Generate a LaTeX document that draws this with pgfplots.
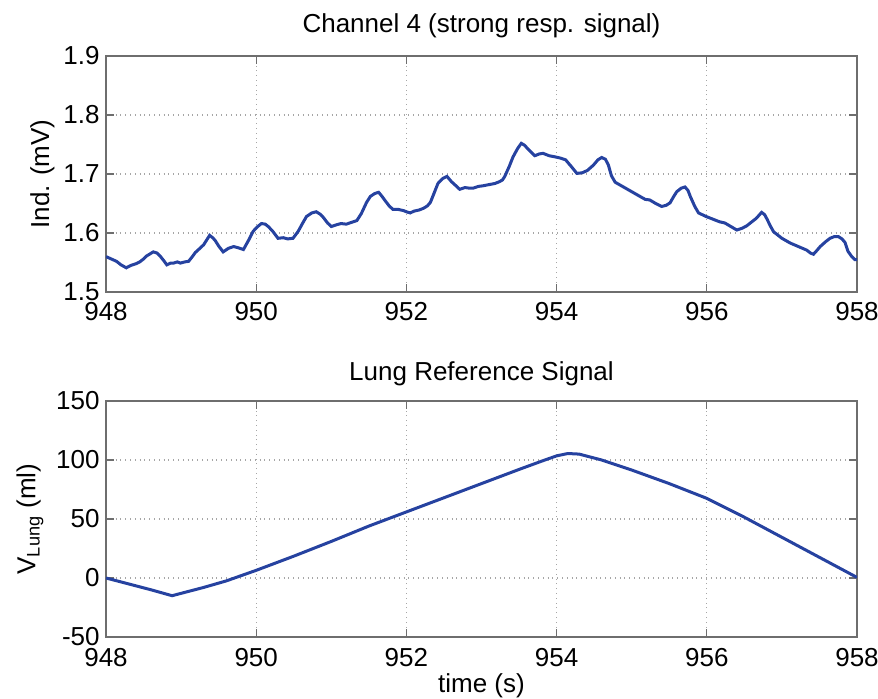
\documentclass[border=0pt]{standalone}
\usepackage{fontspec}
\setmainfont{Liberation Sans}
\usepackage{pgfplots}
\pgfplotsset{compat=1.18}
\definecolor{sig}{RGB}{38,66,160}
\definecolor{axgray}{RGB}{110,110,110}
\newcommand{\fs}{\fontsize{13}{15}\selectfont}
\pgfplotsset{
  mystyle/.style={
    scale only axis, width=375.5pt, height=118pt, anchor=south west,
    xmin=948, xmax=958, xtick={948,950,952,954,956,958},
    grid=major, grid style={dotted, gray!70, line width=0.6pt},
    tick align=inside, tick pos=both, major tick length=4pt,
    axis line style={axgray, line width=0.6pt},
    tick style={axgray, line width=0.6pt},
    /pgf/number format/assume math mode=true,
    ticklabel style={font=\fs},
    xticklabel style={anchor=base, inner sep=0pt, yshift=-14.5pt},
    yticklabel style={anchor=east, inner sep=0pt, xshift=-3pt},
    label style={font=\fs},
    title style={font=\fs, anchor=base, at={(0.5,1)}},
    xlabel style={at={(axis description cs:0.5,0)}, anchor=base, yshift=-27.5pt},
    every axis plot/.append style={sig, line width=1.5pt, line join=miter},
  }
}
\begin{document}
\fs
\begin{tikzpicture}
\path[use as bounding box] (0,0) rectangle (439pt,-349.5pt);
\begin{axis}[mystyle, at={(53pt,-146pt)},
  ymin=1.5, ymax=1.9, ytick={1.5,1.6,1.7,1.8,1.9},
  yticklabel style={/pgf/number format/.cd, fixed, fixed zerofill, precision=1},
  title={Channel 4 (strong resp. signal)}, title style={yshift=5.5pt},
  ylabel={Ind. (mV)},
  ylabel style={at={(axis description cs:-0.0846,0.5)}, anchor=center}]
\addplot[no marks] coordinates {
(948.00,1.560) (948.07,1.556) (948.14,1.552) (948.20,1.546) (948.27,1.541)
(948.33,1.545) (948.40,1.548) (948.45,1.551) (948.50,1.556) (948.54,1.561)
(948.63,1.568) (948.68,1.566) (948.72,1.561) (948.77,1.553) (948.81,1.546)
(948.86,1.549) (948.90,1.549) (948.95,1.551) (948.99,1.549) (949.05,1.551)
(949.10,1.552) (949.15,1.560) (949.19,1.567) (949.25,1.574) (949.30,1.580)
(949.34,1.588) (949.38,1.596) (949.42,1.592) (949.45,1.588) (949.50,1.578)
(949.56,1.568) (949.63,1.574) (949.70,1.577) (949.76,1.575) (949.83,1.572)
(949.90,1.588) (949.96,1.603) (950.02,1.611) (950.07,1.616) (950.12,1.615)
(950.16,1.611) (950.22,1.603) (950.29,1.591) (950.36,1.592) (950.42,1.590)
(950.49,1.591) (950.56,1.603) (950.62,1.617) (950.67,1.628) (950.74,1.634)
(950.80,1.636) (950.85,1.632) (950.89,1.627) (950.95,1.617) (951.00,1.611)
(951.07,1.614) (951.13,1.616) (951.20,1.615) (951.27,1.618) (951.34,1.621)
(951.40,1.633) (951.47,1.652) (951.52,1.662) (951.58,1.667) (951.63,1.669)
(951.67,1.663) (951.71,1.656) (951.77,1.646) (951.82,1.640) (951.89,1.640)
(951.96,1.638) (952.00,1.636) (952.05,1.634) (952.10,1.637) (952.17,1.639)
(952.23,1.642) (952.28,1.646) (952.32,1.652) (952.37,1.668) (952.42,1.684)
(952.48,1.692) (952.54,1.696) (952.60,1.687) (952.66,1.680) (952.71,1.674)
(952.78,1.677) (952.84,1.676) (952.89,1.676) (952.96,1.679) (953.02,1.680)
(953.10,1.682) (953.18,1.684) (953.24,1.687) (953.28,1.690) (953.31,1.696)
(953.37,1.713) (953.42,1.729) (953.48,1.743) (953.53,1.752) (953.57,1.749)
(953.60,1.745) (953.66,1.737) (953.71,1.731) (953.77,1.734) (953.82,1.735)
(953.90,1.731) (953.98,1.729) (954.05,1.727) (954.12,1.724) (954.20,1.712)
(954.27,1.701) (954.34,1.702) (954.41,1.706) (954.49,1.715) (954.55,1.724)
(954.60,1.728) (954.65,1.725) (954.69,1.715) (954.73,1.697) (954.78,1.686)
(954.89,1.678) (955.00,1.670) (955.11,1.662) (955.18,1.657) (955.24,1.656)
(955.32,1.650) (955.40,1.645) (955.46,1.647) (955.51,1.651) (955.56,1.662)
(955.60,1.670) (955.66,1.676) (955.71,1.678) (955.75,1.672) (955.78,1.662)
(955.84,1.645) (955.89,1.634) (955.99,1.628) (956.09,1.623) (956.17,1.619)
(956.24,1.617) (956.32,1.611) (956.40,1.605) (956.47,1.608) (956.53,1.612)
(956.60,1.619) (956.66,1.625) (956.73,1.635) (956.77,1.631) (956.80,1.624)
(956.85,1.611) (956.89,1.602) (957.00,1.591) (957.11,1.583) (957.22,1.577)
(957.33,1.571) (957.38,1.566) (957.42,1.564) (957.47,1.571) (957.51,1.577)
(957.58,1.585) (957.64,1.591) (957.70,1.594) (957.75,1.594) (957.80,1.590)
(957.84,1.584) (957.88,1.569) (957.93,1.560) (957.97,1.555) (958.00,1.555)
};
\end{axis}
\begin{axis}[mystyle, at={(53pt,-318.5pt)},
  ymin=-50, ymax=150, ytick={-50,0,50,100,150},
  title={Lung Reference Signal}, title style={yshift=4pt},
  xlabel={time (s)},
  ylabel={V\textsubscript{Lung} (ml)},
  ylabel style={at={(axis description cs:-0.1012,0.5)}, anchor=center}]
\addplot[no marks] coordinates {
(948.0,0) (948.3,-5) (948.6,-10) (948.88,-15) (949.0,-13) (949.3,-8)
(949.6,-2.5) (950.0,6.5) (950.5,18.5) (951.0,31) (951.5,44) (952.0,56)
(952.5,68) (953.0,80) (953.5,92) (953.8,99) (954.0,103.5) (954.15,105.5)
(954.3,105) (954.6,100) (955.0,91.5) (955.5,80) (956.0,67.5) (956.5,51.5)
(957.0,34.5) (957.5,17.5) (958.0,0.5)
};
\end{axis}
\end{tikzpicture}
\end{document}
